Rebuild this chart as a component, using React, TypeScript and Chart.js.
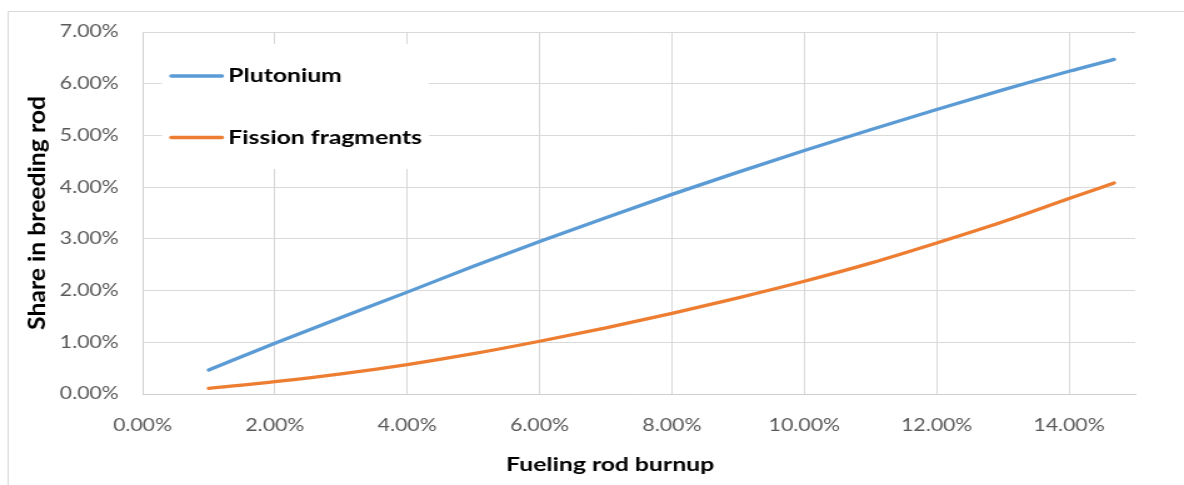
import { useEffect, useRef } from "react";
import { Chart, registerables } from "chart.js";

Chart.register(...registerables);

// Fueling rod burnup (%) at each computed point
const burnup = [1, 2, 3, 4, 5, 6, 7, 8, 9, 10, 11, 12, 13, 14, 14.68];
// Share in the breeding rod (%)
const plutonium = [0.465, 0.98, 1.48, 1.97, 2.47, 2.95, 3.41, 3.86, 4.29, 4.71, 5.11, 5.5, 5.88, 6.24, 6.47];
const fissionFragments = [0.11, 0.24, 0.39, 0.57, 0.78, 1.02, 1.28, 1.56, 1.86, 2.18, 2.53, 2.92, 3.33, 3.78, 4.08];

const seriesNames = ["Plutonium", "Fission fragments"];
const seriesColors = ["#5b9bd5", "#ed7d31"];

const xTitle = "Fueling rod burnup";
const yTitle = "Share in breeding rod";

// The canvas is rendered 947px wide and displayed 1184px wide (wide lettering).
const CANVAS_W = 947;
const CANVAS_H = 485;
const VIEW_W = 1184;
const WIDEN = VIEW_W / CANVAS_W;

const FONT = "Lato, 'Open Sans', 'Liberation Sans', sans-serif";
const BOLD = `bold 19.8px ${FONT}`;
const GRID = "#d9d9d9";

const pct = (v: number) => v.toFixed(2) + "%";

const framePlugin = {
  id: "frame",
  beforeDraw(chart: any) {
    const { ctx, width, height } = chart;
    ctx.save();
    ctx.fillStyle = "#ffffff";
    ctx.fillRect(0, 0, width, height);
    ctx.strokeStyle = GRID;
    ctx.lineWidth = 1;
    ctx.beginPath();
    ctx.moveTo(6.5, height);
    ctx.lineTo(6.5, 11.5);
    ctx.lineTo(width, 11.5);
    ctx.stroke();
    ctx.restore();
  },
};

// Axis titles: the vertical one is widened along its length to match the horizontal widening.
const axisTitles = {
  id: "axisTitles",
  afterDraw(chart: any) {
    const { ctx, chartArea } = chart;
    ctx.save();
    ctx.fillStyle = "#000000";
    ctx.font = BOLD;
    ctx.textAlign = "center";
    ctx.textBaseline = "middle";
    ctx.fillText(xTitle, 488, 464.5);

    ctx.translate(29.6, (chartArea.top + chartArea.bottom) / 2);
    ctx.rotate(-Math.PI / 2);
    ctx.scale(WIDEN, 1);
    ctx.fillText(yTitle, 0, 0);
    ctx.restore();
  },
};

const boxedLegend = {
  id: "boxedLegend",
  beforeDatasetsDraw(chart: any) {
    const { ctx } = chart;
    ctx.save();
    ctx.fillStyle = "#ffffff";
    ctx.fillRect(129.6, 44, 343.1 - 129.6, 169 - 44);
    const rows = [76, 137.5];
    chart.data.datasets.forEach((ds: any, i: number) => {
      const y = rows[i];
      ctx.strokeStyle = ds.borderColor;
      ctx.lineWidth = 3.5;
      ctx.lineCap = "round";
      ctx.beginPath();
      ctx.moveTo(137, y);
      ctx.lineTo(177.5, y);
      ctx.stroke();
      ctx.fillStyle = "#000000";
      ctx.font = BOLD;
      ctx.textAlign = "left";
      ctx.textBaseline = "middle";
      ctx.fillText(ds.label, 182.6, y);
    });
    ctx.restore();
  },
};

export default function App() {
  const canvasRef = useRef<HTMLCanvasElement | null>(null);

  useEffect(() => {
    const canvas = canvasRef.current;
    if (!canvas) return;
    const toPoints = (ys: number[]) => burnup.map((x, i) => ({ x, y: ys[i] }));
    const chart = new Chart(canvas, {
      type: "line",
      data: {
        datasets: [
          {
            label: seriesNames[0],
            data: toPoints(plutonium),
            borderColor: seriesColors[0],
            backgroundColor: seriesColors[0],
            borderWidth: 3.3,
            pointRadius: 0,
            cubicInterpolationMode: "monotone",
            borderCapStyle: "round",
          },
          {
            label: seriesNames[1],
            data: toPoints(fissionFragments),
            borderColor: seriesColors[1],
            backgroundColor: seriesColors[1],
            borderWidth: 3.3,
            pointRadius: 0,
            cubicInterpolationMode: "monotone",
            borderCapStyle: "round",
          },
        ],
      },
      options: {
        animation: false,
        responsive: false,
        devicePixelRatio: 1,
        layout: { padding: { left: 0, right: 39, top: 32, bottom: 0 } },
        plugins: {
          legend: { display: false },
          tooltip: { enabled: false },
        },
        scales: {
          x: {
            type: "linear",
            min: 0,
            max: 15,
            afterFit: (axis: any) => {
              axis.height = 91;
            },
            grid: { color: GRID, lineWidth: 1, drawTicks: false },
            border: { color: "#cfcfcf", width: 1 },
            ticks: {
              stepSize: 2,
              includeBounds: false,
              maxRotation: 0,
              padding: 21,
              color: "#595959",
              font: { family: FONT, size: 17 },
              callback: (v: any) => pct(Number(v)),
            },
          },
          y: {
            type: "linear",
            min: 0,
            max: 7,
            afterFit: (axis: any) => {
              axis.width = 114;
            },
            grid: { color: GRID, lineWidth: 1, drawTicks: false },
            border: { color: "#cfcfcf", width: 1 },
            ticks: {
              stepSize: 1,
              padding: 19,
              color: "#595959",
              font: { family: FONT, size: 17 },
              callback: (v: any) => pct(Number(v)),
            },
          },
        },
      },
      plugins: [framePlugin, boxedLegend, axisTitles],
    });
    return () => chart.destroy();
  }, []);

  return (
    <div style={{ position: "fixed", left: 0, top: 0, width: VIEW_W, height: CANVAS_H, background: "#ffffff" }}>
      <canvas
        ref={canvasRef}
        width={CANVAS_W}
        height={CANVAS_H}
        style={{ width: `${VIEW_W}px`, height: `${CANVAS_H}px`, display: "block" }}
      />
    </div>
  );
}
